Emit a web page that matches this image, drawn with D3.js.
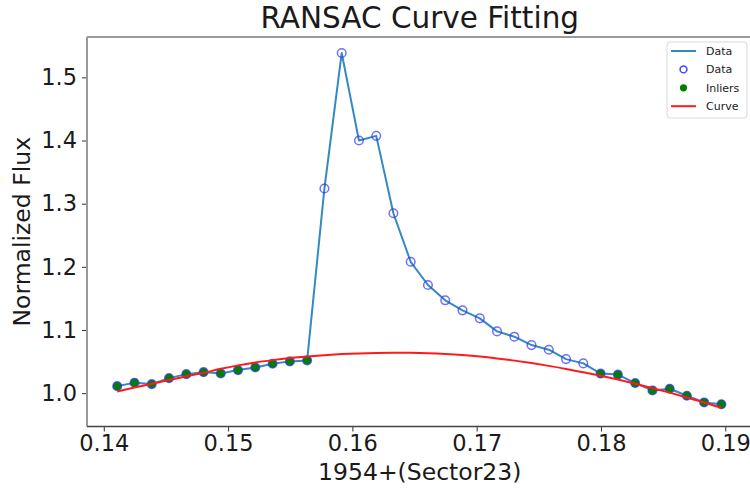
<!DOCTYPE html>
<html>
<head>
<meta charset="utf-8">
<script src="https://cdn.jsdelivr.net/npm/d3@7"></script>
<style>
  html, body { margin: 0; padding: 0; background: #fff; }
  svg { display: block; font-family: "DejaVu Sans", sans-serif; }
</style>
</head>
<body>
<svg id="chart" width="750" height="489"></svg>
<script>
// Time stamps (days, offset from 1954 in Sector 23), 2-minute cadence
const times = [
  0.14108, 0.14247, 0.14386, 0.14525, 0.14664, 0.14803, 0.14941, 0.15080, 0.15219,
  0.15358, 0.15497, 0.15636, 0.15775, 0.15914, 0.16053, 0.16192, 0.16330, 0.16469,
  0.16608, 0.16747, 0.16886, 0.17025, 0.17164, 0.17303, 0.17441, 0.17580, 0.17719,
  0.17858, 0.17997, 0.18136, 0.18275, 0.18414, 0.18553, 0.18691, 0.18830, 0.18969
];

// Normalized flux per time stamp
const flux = [
  1.0111, 1.0165, 1.0143, 1.0238, 1.0301, 1.0333, 1.0312, 1.0365, 1.0407,
  1.0466, 1.0503, 1.0518, 1.3240, 1.5385, 1.4001, 1.4074, 1.2849, 1.2080,
  1.1712, 1.1470, 1.1311, 1.1184, 1.0978, 1.0894, 1.0761, 1.0688, 1.0539,
  1.0471, 1.0310, 1.0294, 1.0160, 1.0043, 1.0070, 0.9959, 0.9853, 0.9824
];

// Indices of points accepted as inliers by RANSAC
const inlierIdx = [0, 1, 2, 3, 4, 5, 6, 7, 8, 9, 10, 11, 28, 29, 30, 31, 32, 33, 34, 35];

// Fitted baseline evaluated at each time stamp
const curve = [
  1.0027, 1.0089, 1.0149, 1.0209, 1.0266, 1.0322, 1.0385, 1.0440, 1.0486,
  1.0523, 1.0555, 1.0581, 1.0602, 1.0618, 1.0629, 1.0636, 1.0639, 1.0638,
  1.0632, 1.0620, 1.0603, 1.0580, 1.0550, 1.0515, 1.0476, 1.0432, 1.0384,
  1.0330, 1.0275, 1.0215, 1.0150, 1.0080, 1.0008, 0.9932, 0.9853, 0.9768
];

const xTicks = [0.14, 0.15, 0.16, 0.17, 0.18, 0.19];
const yTicks = [1.0, 1.1, 1.2, 1.3, 1.4, 1.5];

const legendItems = [
  { label: "Data",    kind: "line",   color: "#3589c2" },
  { label: "Data",    kind: "ring",   color: "#4a4aff" },
  { label: "Inliers", kind: "dot",    color: "#008000" },
  { label: "Curve",   kind: "line",   color: "#ff1a1a" }
];

const svg = d3.select("#chart");
const margin = { left: 87, top: 37, right: 752.5, bottom: 426.5 };

const x = d3.scaleLinear().domain([0.13865, 0.19219]).range([margin.left, margin.right]);
const y = d3.scaleLinear().domain([0.9472, 1.5639]).range([margin.bottom, margin.top]);

const pts = times.map((t, i) => ({ t, f: flux[i], c: curve[i] }));

// Axes
const xAxis = d3.axisBottom(x).tickValues(xTicks).tickSize(5).tickPadding(4)
  .tickFormat(d3.format(".2f"));
const yAxis = d3.axisLeft(y).tickValues(yTicks).tickSize(5).tickPadding(5)
  .tickFormat(d3.format(".1f"));

const gx = svg.append("g").attr("transform", `translate(0,${margin.bottom})`).call(xAxis);
const gy = svg.append("g").attr("transform", `translate(${margin.left},0)`).call(yAxis);
[gx, gy].forEach(g => {
  g.select(".domain").remove();
  g.selectAll(".tick line").attr("stroke", "#333").attr("stroke-width", 1);
  g.selectAll(".tick text").attr("fill", "#1a1a1a").attr("font-size", "22.5px")
    .attr("font-family", "DejaVu Sans, sans-serif");
});

// Frame
svg.append("line").attr("x1", margin.left).attr("x2", margin.right)
  .attr("y1", margin.top).attr("y2", margin.top)
  .attr("stroke", "#999").attr("stroke-width", 2);
svg.append("line").attr("x1", margin.left).attr("x2", margin.left)
  .attr("y1", margin.top).attr("y2", margin.bottom)
  .attr("stroke", "#999").attr("stroke-width", 2);
svg.append("line").attr("x1", margin.left).attr("x2", margin.right)
  .attr("y1", margin.bottom).attr("y2", margin.bottom)
  .attr("stroke", "#444").attr("stroke-width", 1.5);
svg.append("line").attr("x1", margin.right).attr("x2", margin.right)
  .attr("y1", margin.top).attr("y2", margin.bottom)
  .attr("stroke", "#999").attr("stroke-width", 2);

// Data line
const line = d3.line().x(d => x(d.t)).y(d => y(d.f));
svg.append("path").datum(pts).attr("d", line)
  .attr("fill", "none").attr("stroke", "#3589c2").attr("stroke-width", 2)
  .attr("stroke-linejoin", "round");

// Inliers (filled), drawn under the rings so the blue outline stays visible
svg.append("g").selectAll("circle").data(inlierIdx.map(i => pts[i])).join("circle")
  .attr("cx", d => x(d.t)).attr("cy", d => y(d.f)).attr("r", 4.4)
  .attr("fill", "#008000");

// Data markers (open rings)
svg.append("g").selectAll("circle").data(pts).join("circle")
  .attr("cx", d => x(d.t)).attr("cy", d => y(d.f)).attr("r", 4.3)
  .attr("fill", "none").attr("stroke", "#3333ff").attr("stroke-opacity", 0.7)
  .attr("stroke-width", 1.5);

// Fitted curve
const cLine = d3.line().x(d => x(d.t)).y(d => y(d.c)).curve(d3.curveMonotoneX);
svg.append("path").datum(pts).attr("d", cLine)
  .attr("fill", "none").attr("stroke", "#ff1a1a").attr("stroke-width", 2);

// Title and axis labels
svg.append("text").attr("x", (margin.left + margin.right) / 2).attr("y", 28)
  .attr("text-anchor", "middle").attr("font-size", "29.5px").attr("fill", "#1a1a1a")
  .text("RANSAC Curve Fitting");
svg.append("text").attr("x", (margin.left + margin.right) / 2).attr("y", 480)
  .attr("text-anchor", "middle").attr("font-size", "23.5px").attr("fill", "#1a1a1a")
  .text("1954+(Sector23)");
svg.append("text").attr("transform", `translate(30,${(margin.top + margin.bottom) / 2}) rotate(-90)`)
  .attr("text-anchor", "middle").attr("font-size", "23.5px").attr("fill", "#1a1a1a")
  .text("Normalized Flux");

// Legend
const lg = svg.append("g").attr("transform", "translate(667,42)");
lg.append("rect").attr("x", 0).attr("y", 0).attr("width", 80).attr("height", 76)
  .attr("rx", 3).attr("fill", "#fff").attr("fill-opacity", 0.8)
  .attr("stroke", "#d9d9d9").attr("stroke-width", 1);
legendItems.forEach((it, i) => {
  const cy = 9 + i * 18.4;
  const row = lg.append("g").attr("transform", `translate(0,${cy})`);
  if (it.kind === "line") {
    row.append("line").attr("x1", 4).attr("x2", 29).attr("y1", 0).attr("y2", 0)
      .attr("stroke", it.color).attr("stroke-width", 2);
  } else if (it.kind === "ring") {
    row.append("circle").attr("cx", 16.5).attr("cy", 0).attr("r", 3.4)
      .attr("fill", "none").attr("stroke", it.color).attr("stroke-width", 1.6);
  } else {
    row.append("circle").attr("cx", 16.5).attr("cy", 0).attr("r", 3.6).attr("fill", it.color);
  }
  row.append("text").attr("x", 39).attr("y", 0).attr("dy", "0.35em")
    .attr("font-size", "11px").attr("fill", "#1a1a1a").text(it.label);
});
</script>
</body>
</html>
